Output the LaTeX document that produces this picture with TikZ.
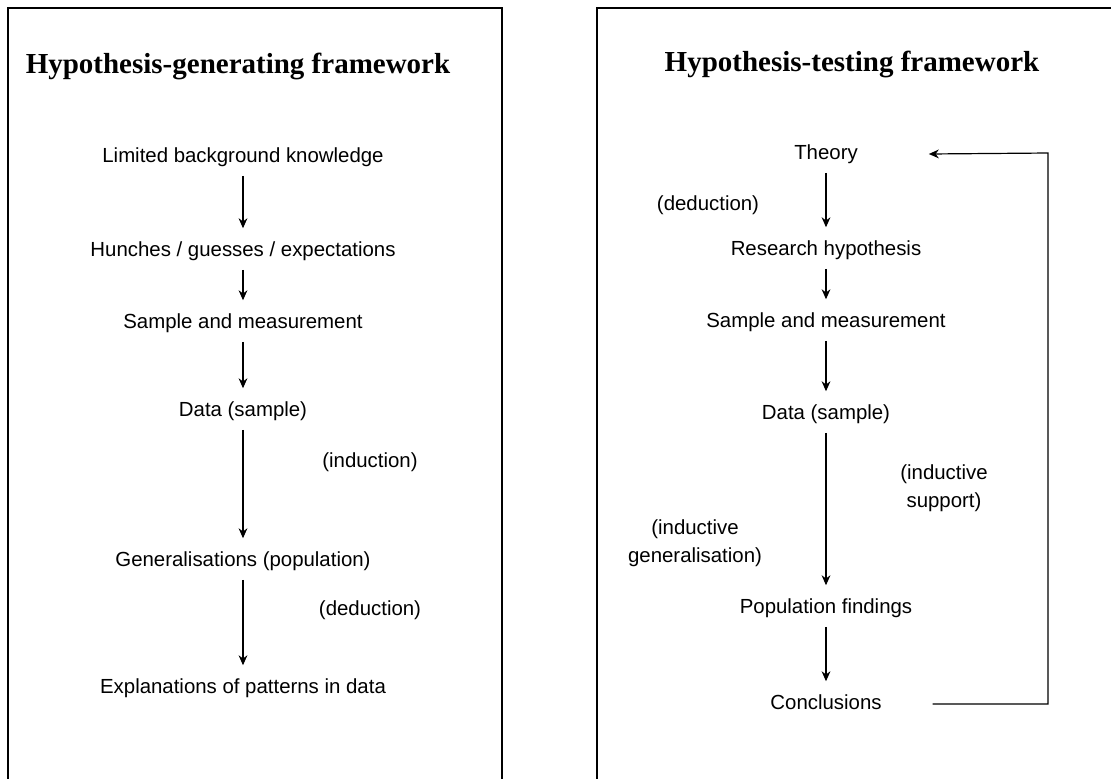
\documentclass[tikz,border=0pt]{standalone}
\usepackage{fontspec}
\setmainfont{Liberation Sans}
\newfontfamily\titlefont{Liberation Serif}
\usetikzlibrary{arrows.meta}

\begin{document}
\begin{tikzpicture}[x=0.5pt, y=-0.5pt,
    lbl/.style={font=\fontsize{10.2}{14}\selectfont, align=center},
    stp/.style={lbl, text height=7.5pt, text depth=2.2pt},
    ttl/.style={font=\titlefont\bfseries\fontsize{14.5}{17}\selectfont},
    arr/.style={-{Stealth[length=5pt, width=4.4pt]}, line width=0.6pt, shorten <=1pt, shorten >=3pt},
    frame/.style={line width=1pt}]
  \clip (0,0) rectangle (1111,778);
  \fill[white] (0,0) rectangle (1111,778);
  % frames
  \draw[frame] (8,8) rectangle (502,820);
  \draw[frame] (597,820) |- (1130,8);

  % hypothesis-generating side
  \node[ttl] (gtitle) at (238,66) {Hypothesis-generating framework};
  \node[stp] (lbk) at (243,157) {Limited background knowledge};
  \node[stp] (hunch) at (243,251) {Hunches / guesses / expectations};
  \node[stp] (gsamp) at (243,323) {Sample and measurement};
  \node[stp] (gdata) at (243,411) {Data (sample)};
  \node[stp] (gen) at (243,561) {Generalisations (population)};
  \node[stp] (expl) at (243,688) {Explanations of patterns in data};
  \node[lbl] (ind) at (370,462) {(induction)};
  \node[lbl] (gded) at (370,610) {(deduction)};
  \draw[arr] (lbk) -- (hunch);
  \draw[arr] (hunch) -- (gsamp);
  \draw[arr] (gsamp) -- (gdata);
  \draw[arr] (gdata) -- (gen);
  \draw[arr] (gen) -- (expl);

  % hypothesis-testing side
  \node[ttl] (ttitle) at (852,64) {Hypothesis-testing framework};
  \node[stp] (theory) at (826,154) {Theory};
  \node[stp] (rhyp) at (826,250) {Research hypothesis};
  \node[stp] (tsamp) at (826,322) {Sample and measurement};
  \node[stp] (tdata) at (826,414) {Data (sample)};
  \node[stp] (popf) at (826,608) {Population findings};
  \node[stp] (concl) at (826,704) {Conclusions};
  \node[lbl] (tded) at (708,205) {(deduction)};
  \node[lbl] (isup) at (944,488) {(inductive\\support)};
  \node[lbl] (igen) at (695,543) {(inductive\\generalisation)};
  \draw[arr] (theory) -- (rhyp);
  \draw[arr] (rhyp) -- (tsamp);
  \draw[arr] (tsamp) -- (tdata);
  \draw[arr] (tdata) -- (popf);
  \draw[arr] (popf) -- (concl);
  \coordinate (loop) at (1048,153);
  \draw[arr, shorten <=0pt, shorten >=0pt] ([xshift=22pt]concl.east) -| (loop) -- ([xshift=32pt]theory.east);
\end{tikzpicture}
\end{document}
